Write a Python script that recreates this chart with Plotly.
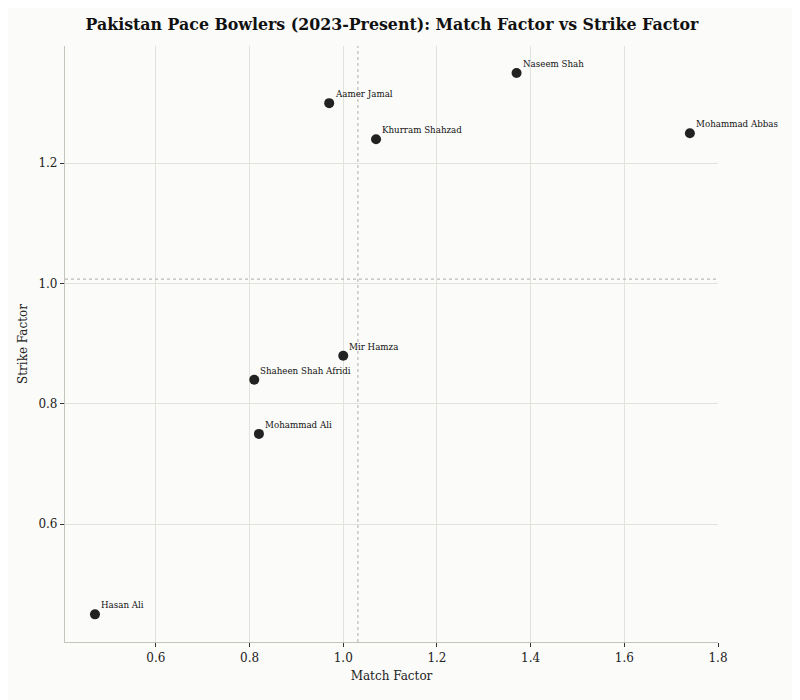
import plotly.graph_objects as go

# Pakistan pace bowlers, 2023-present
bowlers = ['Naseem Shah', 'Mohammad Abbas', 'Aamer Jamal', 'Khurram Shahzad',
           'Mir Hamza', 'Shaheen Shah Afridi', 'Mohammad Ali', 'Hasan Ali']
match_factor = [1.37, 1.74, 0.97, 1.07, 1.00, 0.81, 0.82, 0.47]
strike_factor = [1.35, 1.25, 1.30, 1.24, 0.88, 0.84, 0.75, 0.45]

mean_mf = sum(match_factor) / len(match_factor)
mean_sf = sum(strike_factor) / len(strike_factor)

FONT = "Georgia, 'DejaVu Serif', serif"

fig = go.Figure()
fig.add_trace(go.Scatter(
    x=match_factor, y=strike_factor, mode='markers',
    marker=dict(size=10, color='#222222'),
    hovertext=bowlers, showlegend=False))

for name, mx, sy in zip(bowlers, match_factor, strike_factor):
    fig.add_annotation(x=mx, y=sy, text=name, showarrow=False,
                       xanchor='left', yanchor='bottom', xshift=4, yshift=2,
                       font=dict(family=FONT, size=8.7, color='#111111'))

# average reference lines
fig.add_vline(x=mean_mf, line=dict(color='#bbbbbb', width=1.2, dash='dot'))
fig.add_hline(y=mean_sf, line=dict(color='#bbbbbb', width=1.2, dash='dot'))

axis_common = dict(showgrid=True, gridcolor='#e2e2dc', gridwidth=1,
                   showline=True, linecolor='#c4c4bc', linewidth=1.2,
                   ticks='outside', ticklen=4, tickcolor='#333333',
                   zeroline=False, tickfont=dict(family=FONT, size=12, color='#222'),
                   title_font=dict(family=FONT, size=12, color='#222'))

fig.update_xaxes(range=[0.406, 1.80], dtick=0.2, tickformat='.1f',
                 title_text='Match Factor', title_standoff=8, **axis_common)
fig.update_yaxes(range=[0.404, 1.395], dtick=0.2, tickformat='.1f',
                 title_text='Strike Factor', title_standoff=8, **axis_common)

fig.update_layout(
    width=800, height=700,
    paper_bgcolor='#fbfbf9', plot_bgcolor='#fbfbf9',
    margin=dict(l=57, r=90, t=38, b=66),
    title=dict(text='<b>Pakistan Pace Bowlers (2023-Present): Match Factor vs Strike Factor</b>',
               x=0.48, xanchor='center', y=0.977, yanchor='middle',
               font=dict(family=FONT, size=15.8, color='#111111')),
    font=dict(family=FONT),
)

fig.write_html("out.html")
